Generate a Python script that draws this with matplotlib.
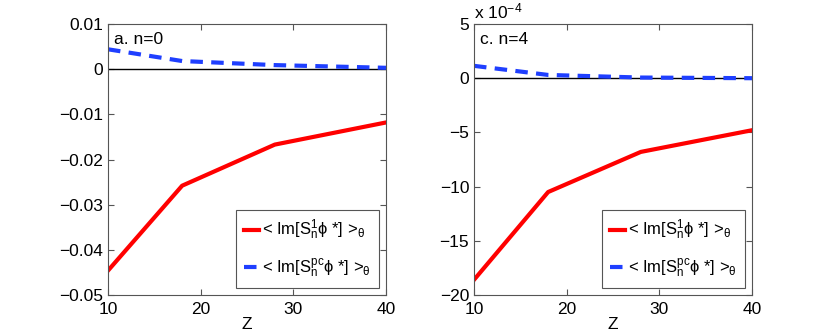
import numpy as np
import matplotlib
matplotlib.use('Agg')
from matplotlib import pyplot as plt

plt.rcParams['font.family'] = ['Liberation Sans', 'DejaVu Sans']
plt.rcParams['mathtext.fontset'] = 'custom'
plt.rcParams['mathtext.rm'] = 'Liberation Sans'
plt.rcParams['mathtext.it'] = 'Liberation Sans'

# data
z = [10, 18, 28, 40]
s1_n0 = [-0.0446, -0.0258, -0.0167, -0.0118]
spc_n0 = [0.0044, 0.0018, 0.0009, 0.0003]
s1_n4 = [-18.6, -10.5, -6.8, -4.8]      # x 1e-4
spc_n4 = [1.14, 0.30, 0.06, 0.0]        # x 1e-4

lab1 = r'< Im[S$_{\rm n}^{1}\phi$ *] >$_\theta$'
lab2 = r'< Im[S$_{\rm n}^{\rm pc}\phi$ *] >$_\theta$'

fig = plt.figure(figsize=(8.3, 3.33), dpi=100)
W, H = 830., 333.
ax1 = fig.add_axes([108 / W, 1 - 295 / H, 278 / W, 271 / H])
ax2 = fig.add_axes([474 / W, 1 - 295 / H, 278 / W, 271 / H])

panels = [(ax1, s1_n0, spc_n0, (-0.05, 0.01), [-0.05, -0.04, -0.03, -0.02, -0.01, 0, 0.01],
           ['\u22120.05', '\u22120.04', '\u22120.03', '\u22120.02', '\u22120.01', '0', '0.01'], 'a. n=0'),
          (ax2, s1_n4, spc_n4, (-20, 5), [-20, -15, -10, -5, 0, 5],
           ['\u221220', '\u221215', '\u221210', '\u22125', '0', '5'], 'c. n=4')]

for ax, s1, spc, ylim, yt, ytl, tag in panels:
    ax.axhline(0, color='k', lw=1)
    ax.plot(z, s1, color='#ff0000', lw=3, label=lab1)
    ax.plot(z, spc, color='#1f3fff', lw=3, ls=(0, (3, 2)), label=lab2)
    ax.set_xlim(10, 40)
    ax.set_ylim(*ylim)
    ax.set_xticks([10, 20, 30, 40])
    ax.set_yticks(yt)
    ax.set_yticklabels(ytl)
    ax.tick_params(direction='in', top=True, right=True, labelsize=12.5, length=4,
                   color='#555555')
    ax.tick_params(axis='x', pad=5)
    for sp in ax.spines.values():
        sp.set_color('#555555')
    ax.set_xlabel('Z', fontsize=12.5, labelpad=0)
    ax.text(0.02, 0.97, tag, transform=ax.transAxes, fontsize=12.5, va='top', ha='left')
    leg = ax.legend(loc='lower right', fontsize=12, handlelength=0.9, handletextpad=0.2,
                    borderpad=0.5, labelspacing=0.9, fancybox=False, framealpha=1,
                    edgecolor='#555555', borderaxespad=0.4)
    leg.get_frame().set_linewidth(0.8)

ax2.text(0.0, 1.01, r'x 10$^{-4}$', transform=ax2.transAxes, fontsize=12.5, va='bottom', ha='left')

plt.savefig('out.png', dpi=100)
